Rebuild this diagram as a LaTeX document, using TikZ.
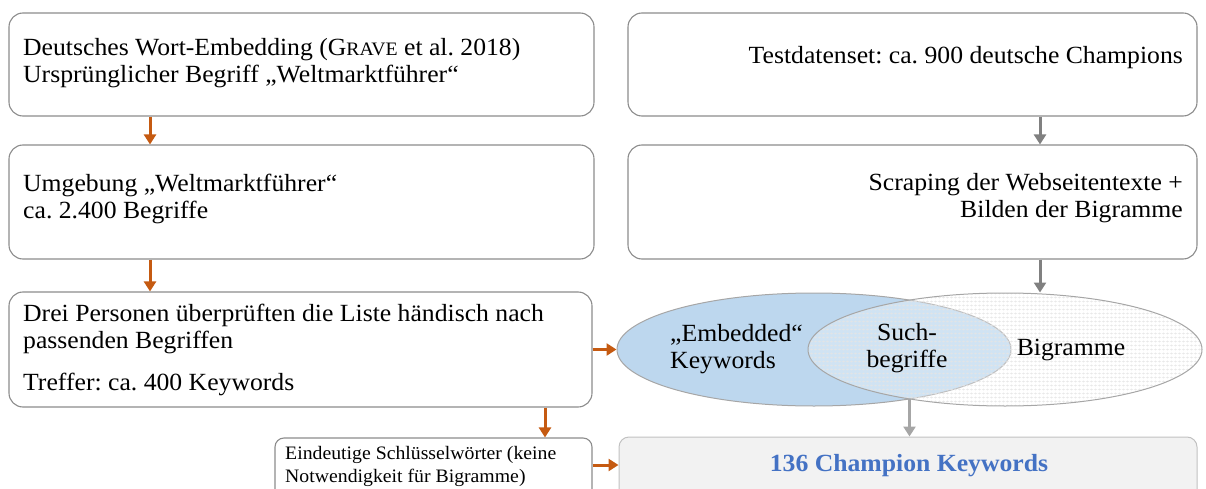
\documentclass[tikz,border=0pt]{standalone}
\usepackage{fontspec}
\setmainfont{Liberation Serif}[FakeStretch=1.04]
\frenchspacing
\usetikzlibrary{arrows.meta,patterns.meta,shapes.geometric}
\definecolor{flowor}{HTML}{C55A11}
\definecolor{flowgr}{HTML}{808080}
\definecolor{flowlg}{HTML}{A6A6A6}
\definecolor{boxline}{HTML}{8C8C8C}
\definecolor{setblue}{HTML}{BDD7EE}
\definecolor{champblue}{HTML}{4472C4}
\tikzset{
  stepbox/.style={draw=boxline, line width=1.1pt, rounded corners=14pt, fill=white, inner sep=0pt},
  champbox/.style={draw=flowlg!70, line width=1pt, rounded corners=10pt, fill=black!5, inner sep=0pt},
  setshape/.style={draw=flowlg, line width=1pt, ellipse, minimum width=394pt, minimum height=113pt, inner sep=0pt},
  bigtext/.style={inner sep=0pt, align=left, font=\fontsize{24.7}{27}\selectfont},
  smalltext/.style={inner sep=0pt, align=left, font=\fontsize{19}{23}\selectfont},
  orarrow/.style={draw=flowor, line width=3pt, -{Triangle[width=12pt,length=10pt]}},
  grarrow/.style={draw=flowgr, line width=3pt, -{Triangle[width=12pt,length=10pt]}},
  lgarrow/.style={draw=flowlg, line width=3pt, -{Triangle[width=12pt,length=10pt]}},
}
\newcommand{\grsc}[1]{{\fontsize{19}{20}\selectfont #1}}
\begin{document}
\begin{tikzpicture}[x=1pt,y=-1pt]
\useasboundingbox (0,0) rectangle (1206,489);

% left column
\node[stepbox, minimum width=585pt, minimum height=103pt] (b1) at (301.5,64.5) {};
\node[stepbox, minimum width=585pt, minimum height=114pt] (b3) at (301.5,202) {};
\node[stepbox, minimum width=583pt, minimum height=115pt] (b5) at (300.5,349.5) {};
\node[stepbox, rounded corners=9pt, minimum width=317pt, minimum height=62pt] (b6) at (433.5,469) {};

% right column
\node[stepbox, minimum width=569pt, minimum height=103pt] (b2) at (912.5,64.5) {};
\node[stepbox, minimum width=569pt, minimum height=114pt] (b4) at (912.5,202) {};
\node[champbox, minimum width=578pt, minimum height=63pt] (ch) at (908,468.5) {};

% the two keyword sets
\node[setshape, fill=setblue] (e1) at (814,349.5) {};
\fill[white, opacity=0.3] (1005,349.5) ellipse [x radius=197pt, y radius=56.5pt];
\fill[pattern={Hatch[angle=0,distance=4pt,line width=0.35pt]}, pattern color=black!10] (1005,349.5) ellipse [x radius=197pt, y radius=56.5pt];
\node[setshape] (e2) at (1005,349.5) {};

% texts
\node[bigtext, anchor=west] (t1) at (23,63.5) {Deutsches Wort-Embedding (G\grsc{RAVE} et al. 2018)\\Ursprünglicher Begriff „Weltmarktführer“};
\node[bigtext, anchor=east] (t2) at (1183,58) {Testdatenset: ca. 900 deutsche Champions};
\node[bigtext, anchor=west] (t3) at (23,199) {Umgebung „Weltmarktführer“\\ca. 2.400 Begriffe};
\node[bigtext, anchor=east, align=right] (t4) at (1183,198) {Scraping der Webseitentexte +\\Bilden der Bigramme};
\node[bigtext, anchor=west] (t5) at (23,329) {Drei Personen überprüften die Liste händisch nach\\passenden Begriffen};
\node[bigtext, anchor=west] (t5b) at (23,384) {Treffer: ca. 400 Keywords};
\node[smalltext, anchor=west] (t6) at (285,466.5) {Eindeutige Schlüsselwörter (keine\\Notwendigkeit für Bigramme)};
\node[bigtext, anchor=west] (te1) at (670,349) {„Embedded“\\Keywords};
\node[bigtext, align=center] (te2) at (907,348) {Such-\\begriffe};
\node[bigtext] (te3) at (1071,350) {Bigramme};
\node[inner sep=0pt, text=champblue, font=\fontsize{24.7}{27}\selectfont\bfseries] (tch) at (909,466) {136 Champion Keywords};

% connectors
\coordinate (xl) at (150,0);
\coordinate (xm) at (545,0);
\coordinate (xr) at (1040,0);
\coordinate (yb) at (0,465);
\coordinate (cut) at (909.5,398.9);
\draw[orarrow] (b1.south -| xl) -- (b3.north -| xl);
\draw[orarrow] (b3.south -| xl) -- (b5.north -| xl);
\draw[orarrow] (b5.south -| xm) -- (b6.north -| xm);
\draw[orarrow] (b5.east) -- (e1.west);
\draw[orarrow] (b6.east |- yb) -- (ch.west |- yb);
\draw[grarrow] (b2.south -| xr) -- (b4.north -| xr);
\draw[grarrow] (b4.south -| xr) -- (e2.north -| xr);
\draw[lgarrow] (cut) -- (ch.north -| cut);
\end{tikzpicture}
\end{document}
